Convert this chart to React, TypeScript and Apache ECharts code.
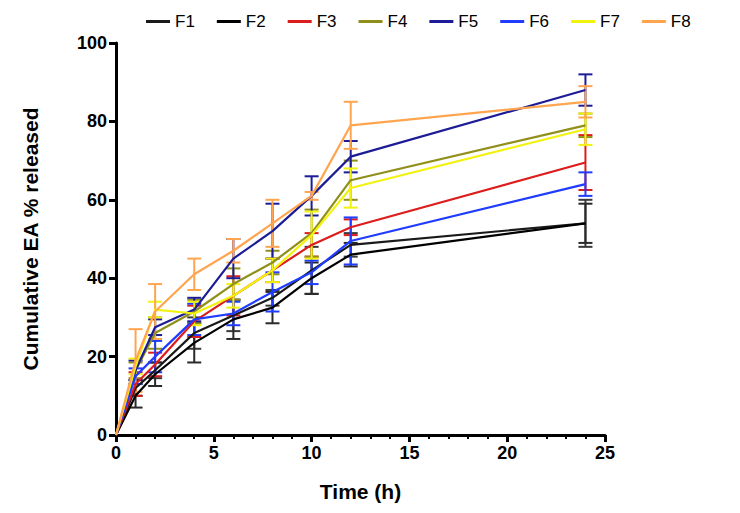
import React, { useEffect, useRef } from "react";
import * as echarts from "echarts";

const times = [0, 1, 2, 4, 6, 8, 10, 12, 24];
const names = ["F1", "F2", "F3", "F4", "F5", "F6", "F7", "F8"];
const colors = ["#1a1a1a", "#000000", "#dd1c1c", "#8f8f1a", "#1c1c96", "#1f3cff", "#f2f20f", "#ffa550"];
const errColors = ["#3a3a3a", "#2a2a2a", "#dd1c1c", "#8f8f1a", "#1c1c96", "#1f3cff", "#f2f20f", "#ffa550"];

const F1 = [0, 12, 16.5, 26, 30.5, 35, 42, 48.5, 54];
const F2 = [0, 10, 15.5, 23.5, 29.5, 32.5, 40, 46, 54];
const F3 = [0, 13, 18, 29, 35.5, 42, 48.5, 53, 69.5];
const F4 = [0, 16.5, 26, 31.5, 38.5, 44, 51.5, 65, 79];
const F5 = [0, 16.5, 27.5, 32, 45, 52, 61, 71, 88];
const F6 = [0, 15, 20, 29.5, 31, 36.5, 41.5, 49.5, 64];
const F7 = [0, 17.5, 32, 31, 35.5, 42, 51, 63, 78];
const F8 = [0, 19, 31.5, 41, 47, 54, 61, 79, 85];

const E1 = [0, 2, 2, 4, 4, 2, 6, 3, 6];
const E2 = [0, 3, 3, 5, 5, 4, 4, 3, 5];
const E3 = [0, 3, 3, 4, 5, 3, 3, 2, 7];
const E4 = [0, 2, 4, 3, 4, 3, 6, 5, 3];
const E5 = [0, 2.5, 2, 3, 5, 7, 5, 4, 4];
const E6 = [0, 2, 4, 4, 3, 5, 3, 6, 3];
const E7 = [0, 2, 2, 3, 3, 3, 6, 5, 4];
const E8 = [0, 8, 7, 4, 3, 6, 1, 6, 4];

const values = [F1, F2, F3, F4, F5, F6, F7, F8];
const errors = [E1, E2, E3, E4, E5, E6, E7, E8];

const FONT = "Liberation Sans, Arial, sans-serif";

export default function App() {
  const ref = useRef<HTMLDivElement>(null);
  useEffect(() => {
    document.body.style.margin = "0";
    if (!ref.current) return;
    const chart = echarts.init(ref.current, null, { renderer: "svg" });

    const lineSeries: any[] = names.map((n, i) => ({
      name: n,
      type: "line",
      data: times.map((t, k) => [t, values[i][k]]),
      symbol: "none",
      lineStyle: { color: colors[i], width: 2.2 },
      itemStyle: { color: colors[i] },
      z: 3,
    }));

    const errSeries: any[] = names.map((n, i) => ({
      name: n,
      type: "custom",
      z: 2,
      data: times
        .map((t, k) => [t, values[i][k] - errors[i][k], values[i][k] + errors[i][k], errors[i][k]])
        .filter((d) => d[3] > 0),
      renderItem: (params: any, api: any) => {
        const x = api.value(0);
        const lo = api.coord([x, api.value(1)]);
        const hi = api.coord([x, api.value(2)]);
        const w = 7;
        const style = { stroke: errColors[i], lineWidth: 2 };
        return {
          type: "group",
          children: [
            { type: "line", shape: { x1: hi[0], y1: hi[1], x2: lo[0], y2: lo[1] }, style },
            { type: "line", shape: { x1: hi[0] - w, y1: hi[1], x2: hi[0] + w, y2: hi[1] }, style },
            { type: "line", shape: { x1: lo[0] - w, y1: lo[1], x2: lo[0] + w, y2: lo[1] }, style },
          ],
        };
      },
      encode: { x: 0, y: [1, 2] },
    }));

    chart.setOption({
      animation: false,
      backgroundColor: "#ffffff",
      legend: {
        data: names.map((n, i) => ({ name: n, itemStyle: { color: colors[i] } })),
        left: 141,
        top: 8,
        icon: "rect",
        itemWidth: 24,
        itemHeight: 3,
        itemGap: 22,
        textStyle: { fontSize: 17, color: "#000", fontFamily: FONT },
      },
      grid: { left: 116, right: 135, top: 43, bottom: 78 },
      xAxis: {
        type: "value",
        min: 0,
        max: 25,
        interval: 5,
        name: "Time (h)",
        nameLocation: "middle",
        nameGap: 46,
        nameTextStyle: { fontSize: 21, fontWeight: "bold", color: "#000", fontFamily: FONT },
        axisLine: { lineStyle: { color: "#000", width: 3 } },
        axisTick: { show: true, length: 7, lineStyle: { color: "#000", width: 3 } },
        minorTick: { show: true, splitNumber: 5, length: 4, lineStyle: { color: "#000", width: 2 } },
        axisLabel: { fontSize: 18, fontWeight: "bold", color: "#000", fontFamily: FONT, margin: 9 },
        splitLine: { show: false },
      },
      yAxis: {
        type: "value",
        min: 0,
        max: 100,
        interval: 20,
        name: "Cumulative EA % released",
        nameLocation: "middle",
        nameGap: 75,
        nameTextStyle: { fontSize: 21, fontWeight: "bold", color: "#000", fontFamily: FONT },
        axisLine: { show: true, lineStyle: { color: "#000", width: 3 } },
        axisTick: { show: true, length: 7, lineStyle: { color: "#000", width: 3 } },
        axisLabel: { fontSize: 18, fontWeight: "bold", color: "#000", fontFamily: FONT, margin: 9 },
        splitLine: { show: false },
      },
      series: [...errSeries, ...lineSeries],
    });
    return () => chart.dispose();
  }, []);
  return <div ref={ref} style={{ width: 740, height: 513 }} />;
}
